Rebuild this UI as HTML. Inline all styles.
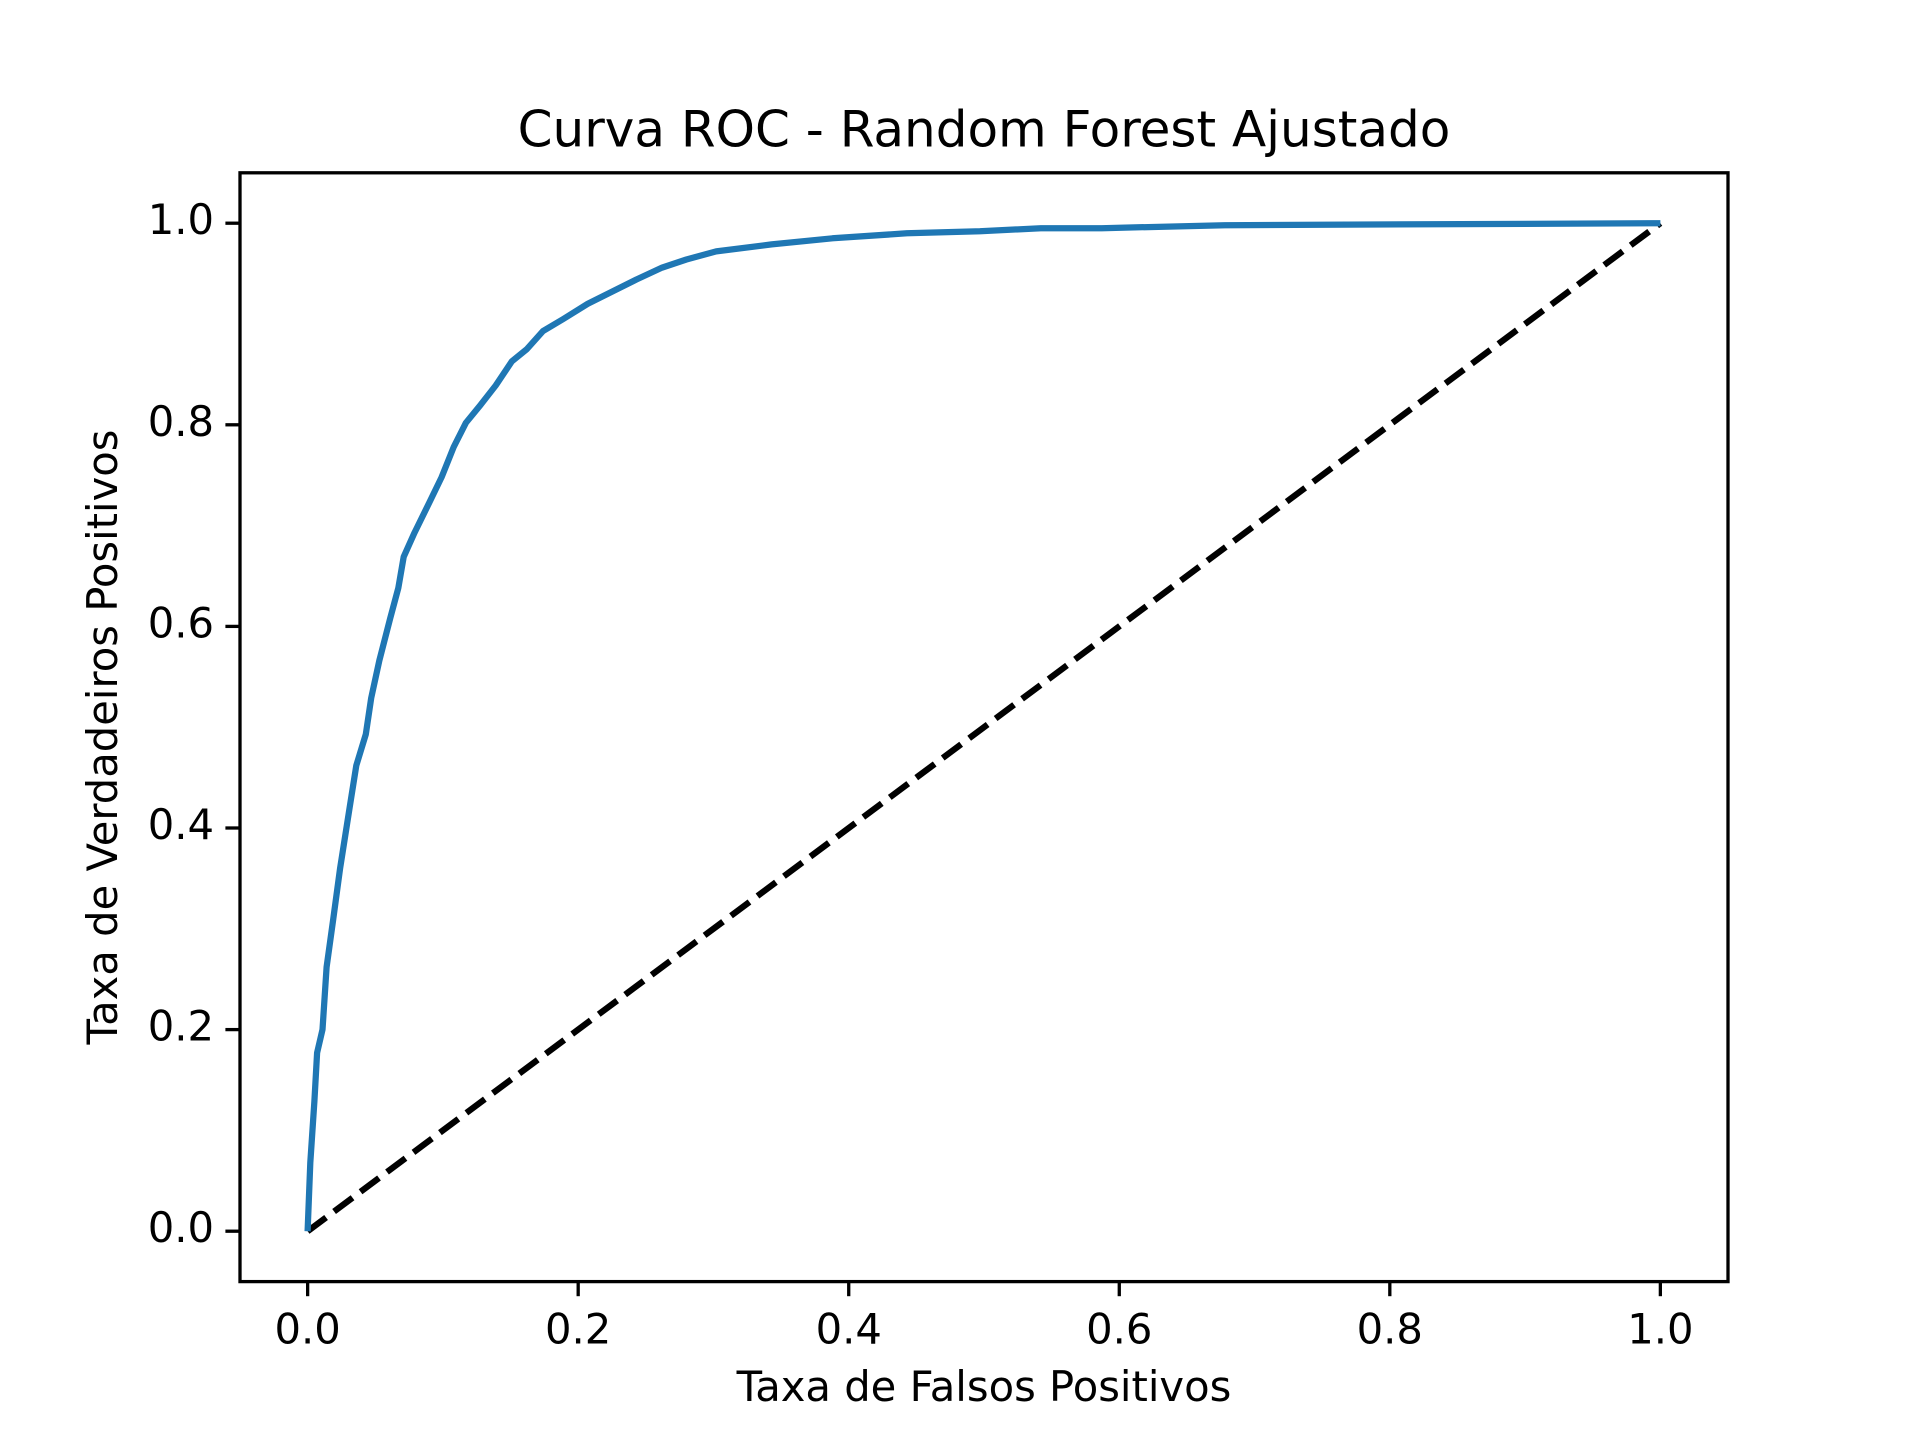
<!DOCTYPE html>
<html><head><meta charset="utf-8"><style>
html,body{margin:0;padding:0;background:#fff;}
svg{display:block;font-family:"DejaVu Sans","Liberation Sans",sans-serif;}
</style></head><body>
<svg id="chart" width="1920" height="1440" viewBox="0 0 1920 1440" xmlns="http://www.w3.org/2000/svg">
<rect width="1920" height="1440" fill="#fff"/>
<g id="plot"></g>
<text x="984" y="133" font-size="50" text-anchor="middle" dominant-baseline="middle">Curva ROC - Random Forest Ajustado</text>
<text x="984" y="1390" font-size="41.7" text-anchor="middle" dominant-baseline="middle">Taxa de Falsos Positivos</text>
<text x="106" y="737" font-size="41.7" text-anchor="middle" dominant-baseline="middle" transform="rotate(-90 106 737)">Taxa de Verdadeiros Positivos</text>
</svg>
<script>
const fpr=[0,0.002,0.005,0.007,0.011,0.014,0.019,0.024,0.031,0.036,0.043,0.047,0.053,0.061,0.067,0.071,0.079,0.09,0.099,0.108,0.117,0.128,0.139,0.151,0.162,0.174,0.189,0.207,0.225,0.243,0.262,0.28,0.302,0.343,0.388,0.443,0.497,0.542,0.587,0.678,1];
const tpr=[0,0.068,0.129,0.177,0.2,0.262,0.31,0.36,0.42,0.462,0.493,0.529,0.566,0.608,0.638,0.669,0.693,0.723,0.748,0.778,0.802,0.82,0.839,0.863,0.875,0.893,0.905,0.92,0.932,0.944,0.956,0.964,0.972,0.979,0.985,0.99,0.992,0.995,0.995,0.998,1];
const xTicks=[0,0.2,0.4,0.6,0.8,1.0];
const yTicks=[0,0.2,0.4,0.6,0.8,1.0];
const L=240,R=1728,T=172.8,B=1281.6;
const X=v=>L+(v+0.05)/1.1*(R-L);
const Y=v=>B-(v+0.05)/1.1*(B-T);
const NS="http://www.w3.org/2000/svg";
const g=document.getElementById('plot');
function mk(tag,attrs){const e=document.createElementNS(NS,tag);for(const k in attrs)e.setAttribute(k,attrs[k]);g.appendChild(e);return e;}
const diag=mk('line',{x1:X(0),y1:Y(0),x2:X(1),y2:Y(1),stroke:'#000','stroke-width':6.25,'stroke-dasharray':'23 10'});


const pts=fpr.map((f,i)=>X(f).toFixed(1)+','+Y(tpr[i]).toFixed(1)).join(' ');
const roc=mk('polyline',{points:pts,fill:'none',stroke:'#1f77b4','stroke-width':6.25,'stroke-linejoin':'round'});


const frame=mk('rect',{x:L,y:T,width:R-L,height:B-T,fill:'none',stroke:'#000','stroke-width':3.3});


xTicks.forEach(v=>{
  const t=mk('line',{x1:X(v),y1:B,x2:X(v),y2:B+14.6,stroke:'#000','stroke-width':3.3});
  
  
  const l=mk('text',{x:X(v),y:B+62,'font-size':41.7,'text-anchor':'middle'});
  l.textContent=v.toFixed(1);
  
  
});
yTicks.forEach(v=>{
  const t=mk('line',{x1:L-14.6,y1:Y(v),x2:L,y2:Y(v),stroke:'#000','stroke-width':3.3});
  
  
  const l=mk('text',{x:L-26,y:Y(v),'font-size':41.7,'text-anchor':'end','dominant-baseline':'middle'});
  l.textContent=v.toFixed(1);
  
  
});
</script>
</body></html>
